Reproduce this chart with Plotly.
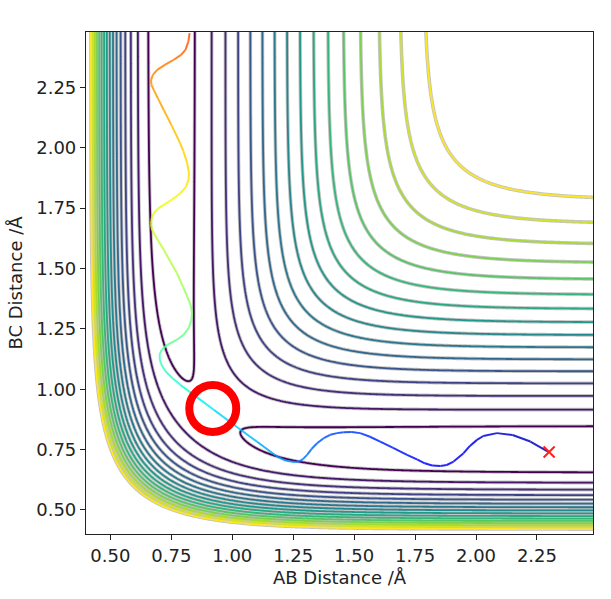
import numpy as np
import plotly.graph_objects as go

# ---------------- LEPS surface parameters (H + H2, collinear) ----------------
D_E = 4.746      # well depth / eV
BETA = 1.942     # Morse beta / 1/Å
R_E = 0.742      # equilibrium bond length / Å
SATO = 0.19      # Sato parameter

R_LOW = 0.40
R_HIGH = 2.48
N_GRID = 417

# contour levels (energy above the H2 well bottom, eV)
LEVEL_START = 0.162
LEVEL_STEP = 0.2277
LEVEL_END = 3.578

# ---------------- trajectory ----------------
traj_ab = [2.297, 2.223, 2.150, 2.086, 2.030, 2.004, 1.975, 1.949, 1.908, 1.880,
           1.854, 1.820, 1.790, 1.760, 1.717, 1.660, 1.607, 1.565, 1.525, 1.490,
           1.457, 1.430, 1.402, 1.375, 1.348, 1.325, 1.307, 1.290, 1.275, 1.260,
           1.240, 1.211, 1.177, 1.102, 1.033, 0.924, 0.856, 0.787, 0.755, 0.728,
           0.712, 0.703, 0.702, 0.712, 0.735, 0.770, 0.800, 0.821, 0.832, 0.835,
           0.830, 0.821, 0.800, 0.773, 0.745, 0.719, 0.695, 0.678, 0.668, 0.667,
           0.670, 0.678, 0.695, 0.719, 0.755, 0.787, 0.810, 0.821, 0.822, 0.815,
           0.800, 0.780, 0.750, 0.719, 0.695, 0.678, 0.668, 0.667, 0.675, 0.692,
           0.725, 0.760, 0.790, 0.808, 0.820, 0.825]
traj_bc = [0.740, 0.783, 0.810, 0.818, 0.806, 0.790, 0.765, 0.735, 0.700, 0.686,
           0.682, 0.684, 0.693, 0.708, 0.728, 0.757, 0.783, 0.803, 0.818, 0.823,
           0.822, 0.818, 0.811, 0.797, 0.776, 0.752, 0.728, 0.710, 0.701, 0.698,
           0.700, 0.707, 0.726, 0.782, 0.833, 0.915, 0.966, 1.018, 1.045, 1.072,
           1.097, 1.120, 1.145, 1.165, 1.185, 1.203, 1.225, 1.253, 1.285, 1.315,
           1.345, 1.370, 1.420, 1.481, 1.530, 1.578, 1.617, 1.647, 1.670, 1.688,
           1.710, 1.730, 1.748, 1.764, 1.787, 1.812, 1.838, 1.868, 1.900, 1.937,
           1.985, 2.033, 2.095, 2.157, 2.205, 2.240, 2.262, 2.282, 2.303, 2.323,
           2.345, 2.365, 2.385, 2.406, 2.440, 2.475]
traj_time = [0.050, 0.060, 0.070, 0.080, 0.085, 0.090, 0.095, 0.100, 0.105, 0.110,
             0.115, 0.120, 0.125, 0.130, 0.140, 0.150, 0.160, 0.170, 0.180, 0.185,
             0.190, 0.195, 0.200, 0.210, 0.220, 0.230, 0.240, 0.245, 0.250, 0.255,
             0.260, 0.270, 0.280, 0.300, 0.320, 0.350, 0.370, 0.390, 0.400, 0.410,
             0.420, 0.430, 0.440, 0.450, 0.460, 0.470, 0.480, 0.490, 0.500, 0.510,
             0.520, 0.530, 0.545, 0.560, 0.570, 0.580, 0.590, 0.600, 0.605, 0.610,
             0.615, 0.620, 0.625, 0.630, 0.640, 0.650, 0.660, 0.670, 0.675, 0.680,
             0.690, 0.700, 0.715, 0.730, 0.740, 0.750, 0.755, 0.760, 0.765, 0.770,
             0.780, 0.790, 0.800, 0.805, 0.815, 0.820]

ts_point = [0.92, 0.92]        # transition state (red circle)
start_point = [2.30, 0.74]     # trajectory start (red cross)

x_ticks = [0.50, 0.75, 1.00, 1.25, 1.50, 1.75, 2.00, 2.25]
y_ticks = [0.50, 0.75, 1.00, 1.25, 1.50, 1.75, 2.00, 2.25]
x_title = "AB Distance /Å"
y_title = "BC Distance /Å"


# ---------------- LEPS potential ----------------
def coulomb_exchange(r):
    e = np.exp(-BETA * (r - R_E))
    singlet = D_E * (e * e - 2.0 * e)
    triplet = 0.5 * D_E * (e * e + 2.0 * e)
    a = singlet * (1 + SATO)
    b = triplet * (1 - SATO)
    return 0.5 * (a + b), 0.5 * (a - b)


def leps(rab, rbc):
    rac = rab + rbc
    qab, jab = coulomb_exchange(rab)
    qbc, jbc = coulomb_exchange(rbc)
    qac, jac = coulomb_exchange(rac)
    root = np.sqrt(0.5 * ((jab - jbc) ** 2 + (jbc - jac) ** 2 + (jac - jab) ** 2))
    return (qab + qbc + qac - root) / (1 + SATO)


grid = np.linspace(R_LOW, R_HIGH, N_GRID)
RAB, RBC = np.meshgrid(grid, grid)
V = leps(RAB, RBC) + D_E


def jet(t):
    def interp(pts):
        xs = [p[0] for p in pts]
        ys = [p[1] for p in pts]
        return float(np.interp(t, xs, ys))
    r = interp([(0, 0), (0.35, 0), (0.66, 1), (0.89, 1), (1, 0.5)])
    g = interp([(0, 0), (0.125, 0), (0.375, 1), (0.64, 1), (0.91, 0), (1, 0)])
    b = interp([(0, 0.5), (0.11, 1), (0.34, 1), (0.65, 0), (1, 0)])
    return "rgba(%d,%d,%d,0.85)" % (round(r * 255), round(g * 255), round(b * 255))


fig = go.Figure()

# soft gray halo under every contour line
fig.add_trace(go.Contour(
    x=grid, y=grid, z=V,
    autocontour=False,
    contours=dict(start=LEVEL_START, end=LEVEL_END, size=LEVEL_STEP,
                  coloring="lines", showlabels=False),
    colorscale=[[0, "#c4c4c4"], [1, "#c4c4c4"]],
    line=dict(width=3.6, smoothing=0),
    showscale=False, hoverinfo="skip",
))

# viridis contour lines
fig.add_trace(go.Contour(
    x=grid, y=grid, z=V,
    autocontour=False,
    contours=dict(start=LEVEL_START, end=LEVEL_END, size=LEVEL_STEP,
                  coloring="lines", showlabels=False),
    colorscale="Viridis", zauto=False, zmin=LEVEL_START, zmax=LEVEL_END,
    line=dict(width=1.8, smoothing=0),
    showscale=False, hoverinfo="skip",
))

# trajectory, coloured by time
for i in range(len(traj_ab) - 1):
    tmid = 0.5 * (traj_time[i] + traj_time[i + 1])
    fig.add_trace(go.Scatter(
        x=[traj_ab[i], traj_ab[i + 1]], y=[traj_bc[i], traj_bc[i + 1]],
        mode="lines", line=dict(color=jet(tmid), width=2.0),
        showlegend=False, hoverinfo="skip",
    ))

# start marker
fig.add_trace(go.Scatter(
    x=[start_point[0]], y=[start_point[1]], mode="markers",
    marker=dict(symbol="x-thin-open", size=11, color="#ff2020",
                line=dict(width=2, color="#ff2020")),
    showlegend=False, hoverinfo="skip",
))

# transition state circle
fig.add_trace(go.Scatter(
    x=[ts_point[0]], y=[ts_point[1]], mode="markers",
    marker=dict(symbol="circle-open", size=47, color="#ff0000",
                line=dict(width=8, color="#ff0000")),
    showlegend=False, hoverinfo="skip",
))

font = dict(family="DejaVu Sans", size=18, color="#222222")
axis_common = dict(
    showline=True, mirror=True, linecolor="#222222", linewidth=1.2,
    ticks="outside", ticklen=5, tickwidth=1.2, tickcolor="#222222",
    showgrid=False, zeroline=False, tickfont=font, tickformat=".2f",
)
fig.update_layout(
    width=611, height=599,
    margin=dict(l=86, r=18, t=32, b=65),
    paper_bgcolor="white", plot_bgcolor="white",
    font=font, showlegend=False,
    xaxis=dict(range=[R_LOW, R_HIGH], tickvals=x_ticks,
               title=dict(text=x_title, font=font, standoff=6), **axis_common),
    yaxis=dict(range=[R_LOW, R_HIGH], tickvals=y_ticks,
               title=dict(text=y_title, font=font, standoff=8), **axis_common),
)

fig.write_html("out.html")
